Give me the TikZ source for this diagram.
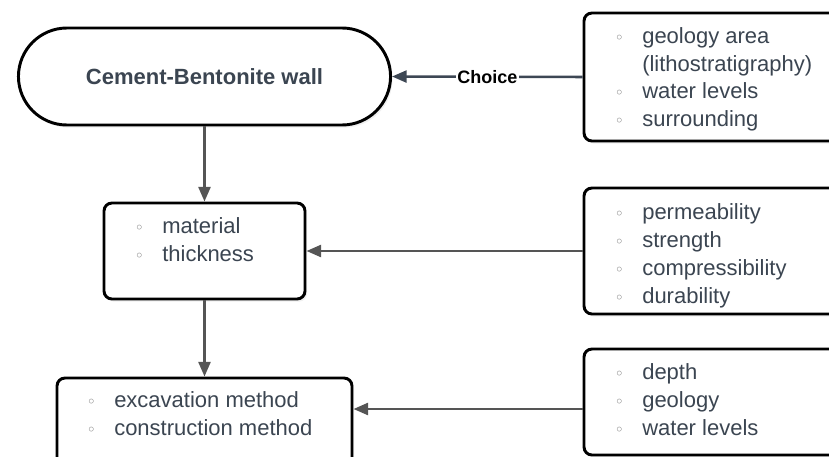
\documentclass[tikz,border=0pt]{standalone}
\usepackage{fontspec}
\setmainfont{Liberation Sans}
\newfontfamily\symfont{DejaVu Sans}
\usetikzlibrary{shapes.misc,arrows.meta,shadows,calc}

\definecolor{texte}{HTML}{3B4551}
\definecolor{fleche}{HTML}{555555}
\definecolor{flecheb}{HTML}{3D4754}

% puce creuse + liste
\newcommand\puce{\makebox[0pt][c]{\color{gray}\symfont\fontsize{12}{12}\selectfont ◦}\hspace{17.25pt}}
\newcommand\liste[1]{\begin{tabular}[t]{@{}l@{}}#1\end{tabular}}

\begin{document}
\begin{tikzpicture}[x=0.75pt,y=-0.75pt]

\tikzset{boite/.style={draw=black,line width=2.2pt,rounded corners=6pt,fill=white,inner sep=0pt,
          drop shadow={opacity=0.12,shadow xshift=1.5pt,shadow yshift=-2pt}},
         items/.style={anchor=base west,inner sep=0pt,text=texte,font=\fontsize{16.5}{21}\selectfont},
         fl/.style={draw=fleche,line width=1.9pt,-{Triangle[length=11pt,width=9pt]}}} %styles

\useasboundingbox (0,0) rectangle (829,457);
\clip (0,0) rectangle (829,457);

%mur
\node[rounded rectangle,draw=black,line width=2.2pt,fill=white,minimum width=285.75pt,minimum height=72.75pt,
      drop shadow={opacity=0.12,shadow xshift=1.5pt,shadow yshift=-2pt},
      text=texte,font=\bfseries\fontsize{16.5}{21}\selectfont] (wall) at (204.5,76.5) {Cement-Bentonite wall};

%boites de gauche
\node[boite,minimum width=150.75pt,minimum height=72pt] (mat) at (204.5,251) {};
\node[items] (matlist) at (139,233) {\liste{\puce material\\ \puce thickness}};

\node[boite,minimum width=221.25pt,minimum height=78pt] (exc) at (204.5,430) {};
\node[items] (exclist) at (91,407) {\liste{\puce excavation method\\ \puce construction method}};

%boites de droite
\node[boite,minimum width=207pt,minimum height=96pt] (geo) at (722,77) {};
\node[items] (geolist) at (619,43) {\liste{\puce geology area\\ \hspace{17.25pt}(lithostratigraphy)\\[-0.5pt] \puce water levels\\ \puce surrounding}};

\node[boite,minimum width=207pt,minimum height=94.5pt] (prop) at (722,251) {};
\node[items] (proplist) at (619,219) {\liste{\puce permeability\\ \puce strength\\ \puce compressibility\\ \puce durability}};

\node[boite,minimum width=207pt,minimum height=79.5pt] (site) at (722,402) {};
\node[items] (sitelist) at (619,379) {\liste{\puce depth\\ \puce geology\\ \puce water levels}};

%fleches
\draw[fl] (wall.south) -- (mat.north);
\draw[fl] (mat.south) -- (exc.north);
\draw[fl,draw=flecheb] (geo.west) -- node[fill=white,inner sep=1pt,font=\bfseries\fontsize{13.5}{15}\selectfont] {Choice} (wall.east);
\draw[fl] (prop.west) -- (mat.east);
\coordinate (r3) at ($(site.west)+(0,7)$);
\draw[fl] (r3) -- (r3 -| exc.east);

\end{tikzpicture}
\end{document}
